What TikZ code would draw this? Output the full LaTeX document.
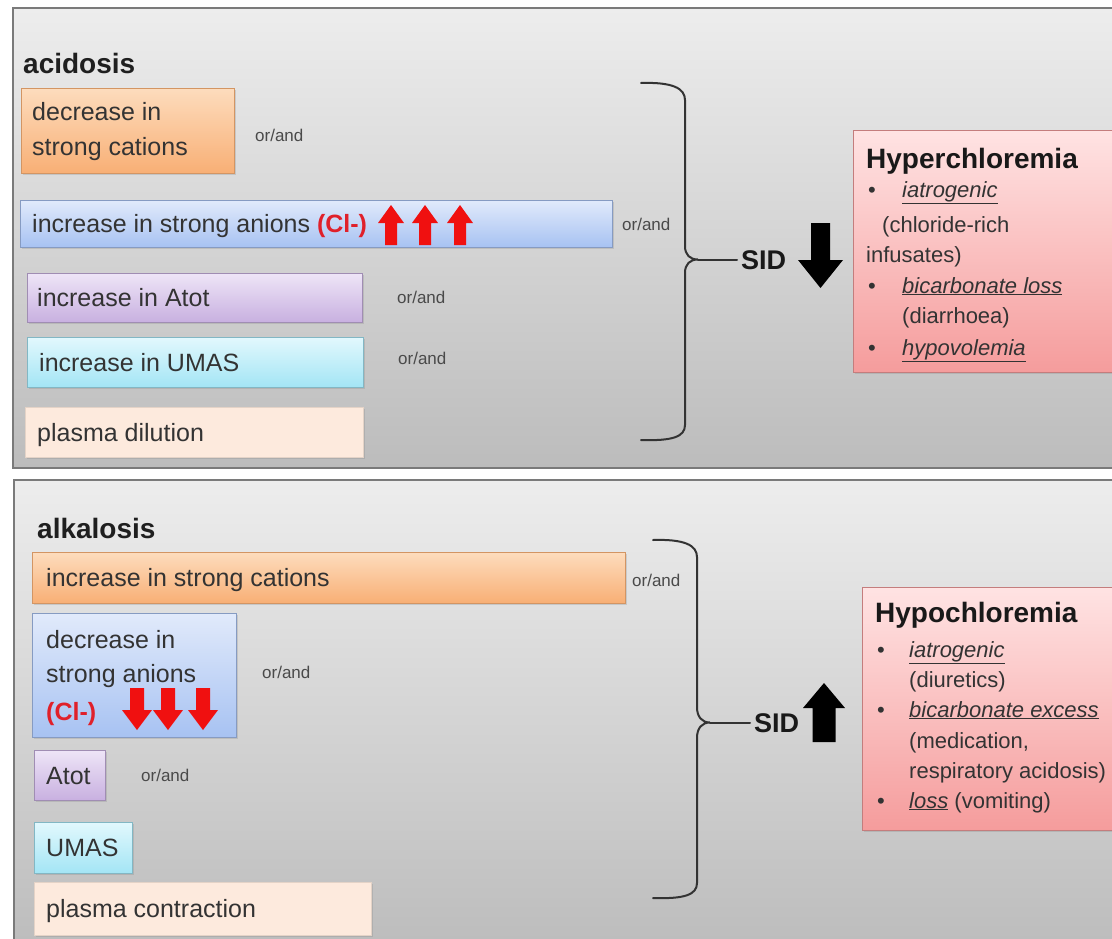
\documentclass[tikz,border=0pt]{standalone}
\usepackage{fontspec}
\setmainfont{Liberation Sans}
\usetikzlibrary{shadows}
\definecolor{txtgray}{HTML}{333333}
\definecolor{orgray}{HTML}{4A4A4A}
\definecolor{clred}{HTML}{E0202A}
\definecolor{arrred}{HTML}{F01010}
\definecolor{panelline}{HTML}{7A7A7A}
\definecolor{panelTop}{HTML}{EDEDED}
\definecolor{panelBot}{HTML}{BCBCBC}
\definecolor{oTop}{HTML}{FDDCBD}
\definecolor{oBot}{HTML}{F8AF75}
\definecolor{bTop}{HTML}{E1EAFB}
\definecolor{bBot}{HTML}{A7C2F2}
\definecolor{pTop}{HTML}{EEE5F7}
\definecolor{pBot}{HTML}{C8B0E0}
\definecolor{cTop}{HTML}{E2F8FD}
\definecolor{cBot}{HTML}{A3E5F5}
\definecolor{kFill}{HTML}{FDEADD}
\definecolor{rTop}{HTML}{FFE3E3}
\definecolor{rBot}{HTML}{F59C9C}
\begin{document}
\begin{tikzpicture}[x=1pt,y=-1pt,
  panel/.style={draw=panelline, line width=1.6pt, top color=panelTop, bottom color=panelBot},
  box/.style={rectangle, inner sep=0pt, anchor=north west, line width=0.6pt,
    drop shadow={shadow xshift=1.5pt, shadow yshift=-2pt, opacity=0.25}},
  obox/.style={box, draw=oBot!85!black, top color=oTop, bottom color=oBot},
  bbox/.style={box, draw=bBot!80!black, top color=bTop, bottom color=bBot},
  pbox/.style={box, draw=pBot!80!black, top color=pTop, bottom color=pBot},
  cbox/.style={box, draw=cBot!80!black, top color=cTop, bottom color=cBot},
  kbox/.style={box, draw=kFill!90!black, fill=kFill},
  rbox/.style={box, draw=rBot!80!black, top color=rTop, bottom color=rBot},
  txt/.style={anchor=base west, inner sep=0pt, font=\fontsize{25}{30}\selectfont, text=txtgray},
  hb/.style={anchor=base west, inner sep=0pt, font=\fontsize{22}{26}\selectfont, text=txtgray},
  htitle/.style={anchor=base west, inner sep=0pt, font=\bfseries\fontsize{28}{32}\selectfont, text=black!90},
  ptitle/.style={anchor=base west, inner sep=0pt, font=\bfseries\fontsize{28}{32}\selectfont, text=black!88},
  orand/.style={anchor=west, inner sep=0pt, font=\fontsize{17}{20}\selectfont, text=orgray},
  sid/.style={anchor=base west, inner xsep=4pt, inner ysep=0pt, font=\bfseries\fontsize{27}{30}\selectfont, text=black!90},
  brace/.style={draw=black!80, line width=2pt, line cap=round},
  redup/.pic={\fill[arrred] (-6,0) -- (-6,-22) -- (-13,-22) -- (0,-40) -- (13,-22) -- (6,-22) -- (6,0) -- cycle;},
  reddown/.pic={\fill[arrred] (-7,0) -- (-7,22) -- (-15,22) -- (0,42) -- (15,22) -- (7,22) -- (7,0) -- cycle;},
  blackdown/.pic={\fill[black] (-9.5,0) -- (-9.5,37) -- (-22.5,37) -- (0,65) -- (22.5,37) -- (9.5,37) -- (9.5,0) -- cycle;},
  blackup/.pic={\fill[black] (-11.5,0) -- (-11.5,-34) -- (-21,-34) -- (0,-59) -- (21,-34) -- (11.5,-34) -- (11.5,0) -- cycle;}
]
\clip (0,0) rectangle (1112,938);
\fill[white] (0,0) rectangle (1112,938);

% ---------- top panel ----------
\draw[panel] (13,8) rectangle (1140,468);
\node[ptitle] (tacid) at (23,73) {acidosis};

\node[obox, minimum width=213pt, minimum height=85pt] (b1) at (21,88) {};
\node[txt] (b1t1) at (32,120) {decrease in};
\node[txt] (b1t2) at (32,155) {strong cations};
\node[orand] (o1) at (255,135) {or/and};

\node[bbox, minimum width=592pt, minimum height=47pt] (b2) at (20,200) {};
\node[txt] (b2t) at (32,232) {increase in strong anions {\color{clred}\bfseries(Cl-)}};
\pic (ua1) at (391,245) {redup};
\pic (ua2) at (425,245) {redup};
\pic (ua3) at (460,245) {redup};
\node[orand] (o2) at (622,224) {or/and};

\node[pbox, minimum width=335pt, minimum height=49pt] (b3) at (27,273) {};
\node[txt] (b3t) at (37,306) {increase in Atot};
\node[orand] (o3) at (397,297) {or/and};

\node[cbox, minimum width=336pt, minimum height=50pt] (b4) at (27,337) {};
\node[txt] (b4t) at (39,371) {increase in UMAS};
\node[orand] (o4) at (398,358) {or/and};

\node[kbox, minimum width=338pt, minimum height=50pt] (b5) at (25,407) {};
\node[txt] (b5t) at (37,441) {plasma dilution};

\node[sid] (sid1) at (737,269) {SID};
\coordinate (tip1) at (698,259.5);
\draw[brace] (641,83) .. controls (672,82) and (685,88) .. (685,100) -- (685,246)
  .. controls (685,255) and (690,259.5) .. (tip1)
  .. controls (690,259.5) and (685,264) .. (685,273) -- (685,425)
  .. controls (685,437) and (672,441) .. (641,440);
\draw[brace] (tip1) -- (tip1 -| sid1.west);
\pic (bd) at (820.5,223) {blackdown};

\node[rbox, minimum width=290pt, minimum height=242pt] (hyper) at (853,130) {};
\node[htitle] (hyt) at (866,168) {Hyperchloremia};
\node[hb] (hyb1) at (868,197) {\textbullet};
\node[hb] (hy1) at (902,197) {\underline{\textit{iatrogenic}}};
\node[hb] (hy2) at (882,232) {(chloride-rich};
\node[hb] (hy3) at (866,262) {infusates)};
\node[hb] (hyb2) at (868,293) {\textbullet};
\node[hb] (hy4) at (902,293) {\underline{\textit{bicarbonate loss}}};
\node[hb] (hy5) at (902,323) {(diarrhoea)};
\node[hb] (hyb3) at (868,355) {\textbullet};
\node[hb] (hy6) at (902,355) {\underline{\textit{hypovolemia}}};

% ---------- bottom panel ----------
\draw[panel] (14,480) rectangle (1140,950);
\node[ptitle] (talk) at (37,538) {alkalosis};

\node[obox, minimum width=593pt, minimum height=51pt] (c1) at (32,552) {};
\node[txt] (c1t) at (46,586) {increase in strong cations};
\node[orand] (p1) at (632,580) {or/and};

\node[bbox, minimum width=204pt, minimum height=124pt] (c2) at (32,613) {};
\node[txt] (c2t1) at (46,648) {decrease in};
\node[txt] (c2t2) at (46,682) {strong anions};
\node[txt] (c2t3) at (46,720) {\color{clred}\bfseries(Cl-)};
\pic (da1) at (137,688) {reddown};
\pic (da2) at (168,688) {reddown};
\pic (da3) at (203,688) {reddown};
\node[orand] (p2) at (262,672) {or/and};

\node[pbox, minimum width=71pt, minimum height=50pt] (c3) at (34,750) {};
\node[txt] (c3t) at (46,784) {Atot};
\node[orand] (p3) at (141,775) {or/and};

\node[cbox, minimum width=98pt, minimum height=51pt] (c4) at (34,822) {};
\node[txt] (c4t) at (46,856) {UMAS};

\node[kbox, minimum width=337pt, minimum height=53pt] (c5) at (34,882) {};
\node[txt] (c5t) at (46,917) {plasma contraction};

\node[sid] (sid2) at (750,732) {SID};
\coordinate (tip2) at (710,722.5);
\draw[brace] (653,540) .. controls (684,539) and (697,545) .. (697,557) -- (697,707)
  .. controls (697,717) and (702,722.5) .. (tip2)
  .. controls (702,722.5) and (697,728) .. (697,738) -- (697,883)
  .. controls (697,895) and (684,899) .. (653,898);
\draw[brace] (tip2) -- (tip2 -| sid2.west);
\pic (bu) at (824,742) {blackup};

\node[rbox, minimum width=290pt, minimum height=243pt] (hypo) at (862,587) {};
\node[htitle] (hot) at (875,622) {Hypochloremia};
\node[hb] (hob1) at (877,657) {\textbullet};
\node[hb] (ho1) at (909,657) {\underline{\textit{iatrogenic}}};
\node[hb] (ho2) at (909,687) {(diuretics)};
\node[hb] (hob2) at (877,717) {\textbullet};
\node[hb] (ho3) at (909,717) {\underline{\textit{bicarbonate excess}}};
\node[hb] (ho4) at (909,748) {(medication,};
\node[hb] (ho5) at (909,778) {respiratory acidosis)};
\node[hb] (hob3) at (877,808) {\textbullet};
\node[hb] (ho6) at (909,808) {\underline{\textit{loss}} (vomiting)};
\end{tikzpicture}
\end{document}
